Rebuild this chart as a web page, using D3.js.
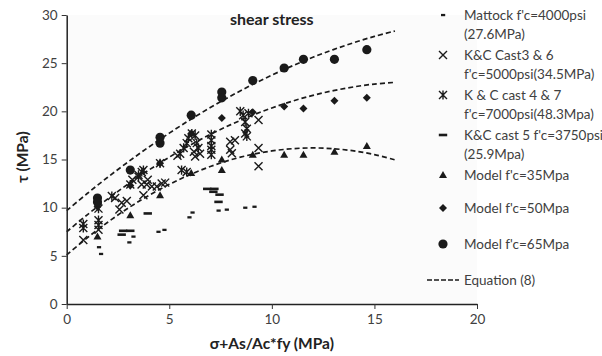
<!DOCTYPE html>
<html><head><meta charset="utf-8">
<script src="https://cdn.jsdelivr.net/npm/d3@7"></script>
<style>body{margin:0;background:#fff}svg{display:block}text{font-family:Lato,"Open Sans",sans-serif}</style>
</head><body><svg id="c" width="602" height="356"></svg>
<script>
// ---- data ----
const xTicks = [0, 5, 10, 15, 20];
const yTicks = [0, 5, 10, 15, 20, 25, 30];

const mattockX = [1.57, 1.67, 3.05, 3.25, 4.47, 4.76, 5.98, 6.13, 7.4, 7.8, 8.7, 9.15];
const mattockY = [5.9, 5.2, 6.4, 7.0, 7.5, 7.7, 9.0, 9.5, 9.7, 9.8, 10.0, 10.1];

const kc36X = [0.81, 1.55, 2.36, 2.68, 2.57, 2.93, 3.2, 3.65, 3.74, 3.9, 3.95, 4.15, 4.39, 4.63, 4.8, 5.4, 6.2, 6.26, 6.5, 7.97, 8.2, 8.05, 7.97, 9.35, 9.35, 9.35];
const kc36Y = [6.65, 7.7, 11.0, 10.5, 9.8, 10.7, 12.9, 12.4, 11.3, 12.4, 12.9, 12.2, 12.2, 12.5, 12.6, 15.4, 15.8, 15.3, 15.6, 16.85, 17.0, 15.65, 16.0, 19.1, 16.2, 14.3];

const kc47X = [0.81, 0.81, 1.55, 1.55, 1.55, 2.2, 3.1, 3.5, 3.66, 3.74, 3.5, 4.55, 5.6, 5.85, 5.53, 5.7, 5.85, 5.93, 6.1, 6.26, 6.34, 6.42, 7.05, 7.05, 7.05, 7.05, 7.05, 8.46, 8.6, 8.7, 8.78, 8.7, 8.78, 8.86];
const kc47Y = [8.3, 7.9, 8.7, 8.2, 9.9, 11.2, 12.4, 13.2, 13.7, 13.9, 13.4, 14.6, 13.9, 13.7, 15.6, 16.2, 16.7, 17.2, 17.7, 17.5, 16.7, 16.2, 17.6, 17.0, 16.4, 16.0, 15.5, 20.0, 19.6, 18.9, 18.2, 17.7, 17.4, 19.8];

const kc5X = [2.68, 2.75, 3.1, 3.95, 6.85, 7.2, 7.15, 7.45, 7.4];
const kc5Y = [7.2, 7.6, 7.6, 9.4, 11.95, 11.95, 11.65, 11.35, 10.6];

const m35X = [1.5, 3.1, 4.55, 6.07, 7.56, 7.56, 9.07, 10.6, 11.54, 13.05, 14.63];
const m35Y = [7.0, 9.2, 11.3, 13.6, 13.9, 15.0, 15.5, 15.5, 15.5, 15.8, 16.4];

const m50X = [1.5, 3.1, 4.55, 6.07, 7.56, 9.07, 10.6, 11.54, 13.05, 14.63];
const m50Y = [10.1, 12.3, 14.6, 17.7, 19.3, 19.9, 20.5, 20.3, 21.1, 21.4];

const m65X = [1.5, 1.5, 3.1, 4.55, 4.55, 6.07, 7.56, 7.56, 9.07, 10.6, 11.54, 13.05, 14.63];
const m65Y = [11.0, 10.6, 13.9, 17.3, 16.7, 19.6, 22.0, 21.4, 23.2, 24.5, 25.4, 25.4, 26.4];

const eqX = [0, 1, 2, 3, 4, 5, 6, 7, 8, 9, 10, 11, 12, 13, 14, 15, 16];
const eqTop = [9.7, 11.47, 13.16, 14.76, 16.29, 17.74, 19.10, 20.39, 21.59, 22.72, 23.76, 24.72, 25.61, 26.41, 27.13, 27.78, 28.34];
const eqMid = [7.5, 9.26, 10.91, 12.46, 13.90, 15.24, 16.47, 17.60, 18.62, 19.54, 20.35, 21.06, 21.66, 22.15, 22.54, 22.83, 23.01];
const eqLow = [5.10, 6.87, 8.49, 9.96, 11.27, 12.42, 13.42, 14.27, 14.97, 15.51, 15.89, 16.12, 16.2, 16.12, 15.89, 15.51, 14.97];

const legendLabels = [
  ["Mattock f'c=4000psi", "(27.6MPa)"],
  ["K&C Cast3 & 6", "f'c=5000psi(34.5MPa)"],
  ["K & C cast 4 & 7", "f'c=7000psi(48.3Mpa)"],
  ["K&C cast 5 f'c=3750psi", "(25.9Mpa)"],
  ["Model f'c=35Mpa"],
  ["Model f'c=50Mpa"],
  ["Model f'c=65Mpa"],
  ["Equation (8)"]
];
const legendTypes = ["short", "cross", "star", "long", "tri", "dia", "circ", "line"];

// ---- chart ----
const svg = d3.select("#c");
const W = 602, H = 356;
const x = d3.scaleLinear().domain([0, 20]).range([66.7, 477]);
const y = d3.scaleLinear().domain([0, 30]).range([304, 15]);
const ink = "#1a1a1a";

svg.append("rect").attr("width", W).attr("height", H).attr("fill", "#fff");
svg.append("rect").attr("x", x(0)).attr("y", y(30)).attr("width", x(20) - x(0)).attr("height", y(0) - y(30)).attr("fill", "#fbfbfb");

// equation curves
const line = d3.line().x(d => x(d[0])).y(d => y(d[1])).curve(d3.curveCatmullRom);
[eqTop, eqMid, eqLow].forEach(arr => {
  svg.append("path").attr("d", line(eqX.map((v, i) => [v, arr[i]])))
    .attr("fill", "none").attr("stroke", ink).attr("stroke-width", 1.7).attr("stroke-dasharray", "5,3");
});

function marker(sel, type) {
  if (type === "circ") sel.append("circle").attr("r", 4.6).attr("fill", ink);
  else if (type === "dia") sel.append("path").attr("d", "M0,-4L4,0L0,4L-4,0Z").attr("fill", ink);
  else if (type === "tri") sel.append("path").attr("d", "M0,-4L4,3L-4,3Z").attr("fill", ink);
  else if (type === "cross") sel.append("path").attr("d", "M-4,-4L4,4M-4,4L4,-4").attr("stroke", ink).attr("stroke-width", 1.4).attr("fill", "none");
  else if (type === "star") sel.append("path").attr("d", "M-4,-4L4,4M-4,4L4,-4M0,-4.6V4.6").attr("stroke", ink).attr("stroke-width", 1.4).attr("fill", "none");
  else if (type === "short") sel.append("rect").attr("x", -2).attr("y", -1.1).attr("width", 4.2).attr("height", 2.3).attr("fill", ink);
  else if (type === "long") sel.append("rect").attr("x", -4.2).attr("y", -1.3).attr("width", 8.4).attr("height", 2.6).attr("fill", ink);
}

function series(xs, ys, type) {
  const g = svg.append("g");
  xs.forEach((v, i) => {
    const m = g.append("g").attr("transform", `translate(${x(v)},${y(ys[i])})`);
    marker(m, type);
  });
}
series(mattockX, mattockY, "short");
series(kc5X, kc5Y, "long");
series(m35X, m35Y, "tri");
series(m50X, m50Y, "dia");
series(kc36X, kc36Y, "cross");
series(kc47X, kc47Y, "star");
series(m65X, m65Y, "circ");

// axes
const ax = svg.append("g").attr("transform", `translate(0,${y(0)})`)
  .call(d3.axisBottom(x).tickValues(xTicks).tickSize(5).tickSizeOuter(0).tickPadding(5));
const ay = svg.append("g").attr("transform", `translate(${x(0)},0)`)
  .call(d3.axisLeft(y).tickValues(yTicks).tickSize(5).tickSizeOuter(0).tickPadding(4));
[ax, ay].forEach(a => {
  a.select(".domain").attr("stroke", "#222").attr("stroke-width", 1.5);
  a.selectAll(".tick line").attr("stroke", "#333").attr("stroke-width", 1);
  a.selectAll(".tick text").attr("fill", "#404040").style("font-size", "13.5px").style("font-family", "Lato, sans-serif");
});

// titles
svg.append("text").attr("x", 271.8).attr("y", 25).attr("text-anchor", "middle")
  .style("font-weight", "bold").style("font-size", "16px").attr("fill", "#222").text("shear stress");
svg.append("text").attr("x", 271.8).attr("y", 349).attr("text-anchor", "middle")
  .style("font-weight", "bold").style("font-size", "15.5px").attr("fill", "#222").text("σ+As/Ac*fy (MPa)");
svg.append("text").attr("transform", "translate(28,157) rotate(-90)").attr("text-anchor", "middle")
  .style("font-weight", "bold").style("font-size", "15.5px").attr("fill", "#222").text("τ (MPa)");

// legend
const legY = [15, 55, 95, 135, 175, 208, 244, 280];
legendLabels.forEach((lines, i) => {
  const g = svg.append("g").attr("transform", `translate(0,${legY[i]})`);
  if (legendTypes[i] === "line") {
    g.append("line").attr("x1", 427).attr("x2", 459).attr("stroke", ink).attr("stroke-width", 1.7).attr("stroke-dasharray", "5,2");
  } else {
    marker(g.append("g").attr("transform", "translate(443,0)"), legendTypes[i]);
  }
  lines.forEach((t, j) => {
    g.append("text").attr("x", 464).attr("y", j * 19.5).attr("dy", "0.35em")
      .style("font-size", "13.5px").attr("fill", "#404040").text(t);
  });
});
</script></body></html>
